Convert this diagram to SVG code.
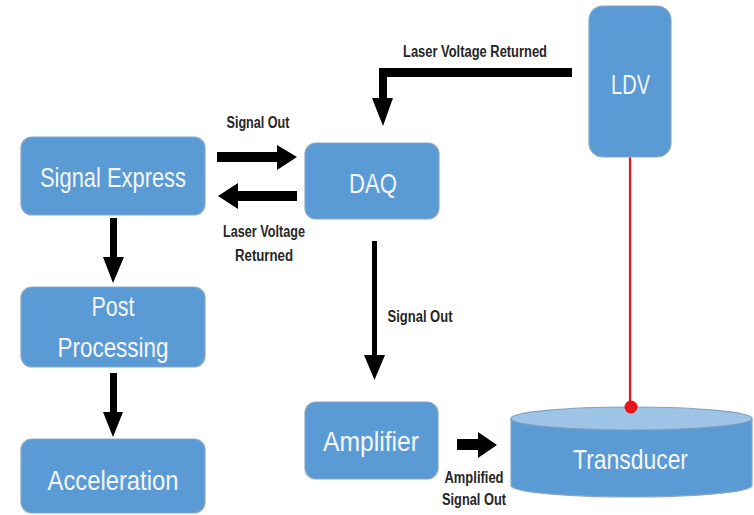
<svg xmlns="http://www.w3.org/2000/svg" width="754" height="515" viewBox="0 0 754 515">
<style>
.box{fill:#5b9bd5;stroke:#8aa6c4;stroke-width:1.2}
.nt{font-family:"Liberation Sans Narrow","Liberation Sans",sans-serif;font-size:28px;fill:#f4f6f8;text-anchor:middle}
.lb{font-family:"Liberation Sans Narrow","Liberation Sans",sans-serif;font-size:16px;font-weight:bold;fill:#262626;text-anchor:middle}
.ar{fill:#000}
</style>
<rect width="754" height="515" fill="#fff"/>
<g id="connectors">
  <polygon class="ar" points="217,152 277,152 277,145 297,157 277,170 277,162 217,162"/>
  <polygon class="ar" points="297,191 238,191 238,183 218,196 238,209 238,201 297,201"/>
  <polygon class="ar" points="110,218 117,218 117,257 124,257 113,283 103,257 110,257"/>
  <polygon class="ar" points="110,373 117,373 117,412 123,412 113,437 103,412 110,412"/>
  <polygon class="ar" points="572,68 572,77 387,77 387,98 393,98 383,126 372,98 379,98 379,68"/>
  <polygon class="ar" points="372,241 377,241 377,355 385,355 374.5,380 364,355 372,355"/>
  <polygon class="ar" points="457,439 478,439 478,432 497,445 478,458 478,450 457,450"/>
  <line x1="630" y1="157" x2="630" y2="407" stroke="#e8141c" stroke-width="2.2"/>
  <text class="lb" x="258" y="128" textLength="63" lengthAdjust="spacingAndGlyphs">Signal Out</text>
  <text class="lb" x="264" y="237" textLength="82" lengthAdjust="spacingAndGlyphs">Laser Voltage</text>
  <text class="lb" x="264" y="261" textLength="58" lengthAdjust="spacingAndGlyphs">Returned</text>
  <text class="lb" x="475" y="57" textLength="144" lengthAdjust="spacingAndGlyphs">Laser Voltage Returned</text>
  <text class="lb" x="420" y="322" textLength="65" lengthAdjust="spacingAndGlyphs">Signal Out</text>
  <text class="lb" x="474" y="483" textLength="59" lengthAdjust="spacingAndGlyphs">Amplified</text>
  <text class="lb" x="474" y="505" textLength="64" lengthAdjust="spacingAndGlyphs">Signal Out</text>
</g>
<g id="signal-express">
  <rect class="box" x="21" y="137" width="184" height="78" rx="11"/>
  <text class="nt" x="113" y="187" textLength="146" lengthAdjust="spacingAndGlyphs">Signal Express</text>
</g>
<g id="daq">
  <rect class="box" x="305" y="143" width="134" height="76" rx="11"/>
  <text class="nt" x="373" y="193" textLength="48" lengthAdjust="spacingAndGlyphs">DAQ</text>
</g>
<g id="ldv">
  <rect class="box" x="589" y="6" width="82" height="151" rx="14"/>
  <text class="nt" x="630.5" y="94" textLength="39" lengthAdjust="spacingAndGlyphs">LDV</text>
</g>
<g id="post-processing">
  <rect class="box" x="21" y="287" width="184" height="80" rx="11"/>
  <text class="nt" x="113" y="316" textLength="43" lengthAdjust="spacingAndGlyphs">Post</text>
  <text class="nt" x="113" y="357" textLength="111" lengthAdjust="spacingAndGlyphs">Processing</text>
</g>
<g id="acceleration">
  <rect class="box" x="21" y="439" width="184" height="74" rx="11"/>
  <text class="nt" x="113" y="490" textLength="131" lengthAdjust="spacingAndGlyphs">Acceleration</text>
</g>
<g id="amplifier">
  <rect class="box" x="305" y="402" width="133" height="77" rx="11"/>
  <text class="nt" x="371" y="451" textLength="96" lengthAdjust="spacingAndGlyphs">Amplifier</text>
</g>
<g id="transducer">
  <path class="box" d="M511,418.5 L511,485.5 A120.5,11.5 0 0 0 752,485.5 L752,418.5 Z"/>
  <ellipse cx="631.5" cy="418.5" rx="120.5" ry="11.5" fill="#9dc3e6" stroke="#7f9fbf" stroke-width="1.2"/>
  <text class="nt" x="630.5" y="469" textLength="115" lengthAdjust="spacingAndGlyphs">Transducer</text>
</g>
<circle cx="631" cy="407" r="6.5" fill="#e8141c"/>
</svg>
